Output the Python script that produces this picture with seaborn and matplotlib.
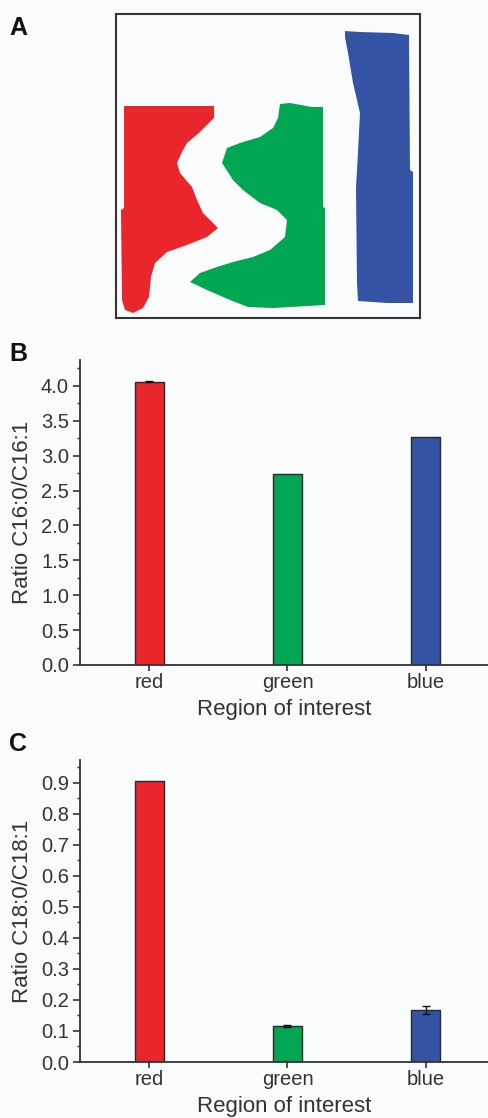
import matplotlib
matplotlib.use("Agg")
import matplotlib.pyplot as plt
import seaborn as sns
import pandas as pd
import numpy as np
from matplotlib.ticker import MultipleLocator

# ---------------- data ----------------
regions = ["red", "green", "blue"]
colors = ["#E8262B", "#00A651", "#3453A4"]

ratio_c16 = [4.06, 2.73, 3.26]
err_c16 = [0.01, 0.0, 0.0]

ratio_c18 = [0.907, 0.117, 0.167]
err_c18 = [0.0, 0.003, 0.012]

# Panel A region outlines (image pixel coords, y downward)
red_x = [124, 214, 214, 200, 187, 182, 177, 180, 192, 197, 203, 218, 207, 187, 167, 155, 151, 149, 143, 133, 125, 122, 121, 124]
red_y = [106, 106, 118, 132, 143, 152, 163, 173, 187, 200, 213, 228, 237, 245, 252, 263, 277, 297, 308, 313, 310, 300, 210, 208]
green_x = [280, 290, 312, 323, 323, 325, 325, 273, 248, 230, 207, 190, 200, 217, 233, 253, 270, 285, 287, 277, 260, 243, 233, 222, 227, 240, 260, 273, 278]
green_y = [104, 103, 107, 107, 207, 208, 305, 308, 307, 300, 290, 282, 273, 267, 262, 257, 250, 237, 220, 210, 203, 190, 180, 163, 148, 143, 137, 128, 118]
blue_x = [345, 360, 393, 409, 410, 413, 413, 387, 358, 357, 356, 358, 360, 353, 348, 345]
blue_y = [31, 32, 33, 35, 170, 172, 303, 303, 301, 283, 188, 152, 113, 83, 53, 37]

# ---------------- style ----------------
sns.set_style("white")
plt.rcParams["font.family"] = ["Liberation Sans", "DejaVu Sans"]
BG = "#fafbfd"
AX = "#333333"
TXT = "#333333"

fig = plt.figure(figsize=(4.88, 11.18), dpi=100, facecolor=BG)

# ---------------- Panel A ----------------
axA = fig.add_axes([116/488, 1-318/1118, 304/488, 304/1118])
axA.set_facecolor(BG)
for xs, ys, c in [(red_x, red_y, colors[0]), (green_x, green_y, colors[1]), (blue_x, blue_y, colors[2])]:
    axA.fill(xs, ys, color=c, lw=0)
axA.set_xlim(116, 420)
axA.set_ylim(318, 14)
axA.set_xticks([]); axA.set_yticks([])
for s in axA.spines.values():
    s.set_visible(True); s.set_color(AX); s.set_linewidth(1.5)
fig.text(9/488, 1-35/1118, "A", fontsize=18, fontweight="bold", color="#111")


def bar_panel(rect, vals, errs, ylim, major, minor, ylabel, letter, letter_y):
    ax = fig.add_axes(rect)
    ax.set_facecolor(BG)
    df = pd.DataFrame({"region": regions, "value": vals})
    sns.barplot(data=df, x="region", y="value", hue="region", palette=colors,
                saturation=1, width=0.21, edgecolor="#2a2a2a", linewidth=1.0,
                legend=False, ax=ax)
    idx = [i for i, e in enumerate(errs) if e > 0]
    ax.errorbar(idx, [vals[i] for i in idx], yerr=[errs[i] for i in idx],
                fmt="none", ecolor="#111", elinewidth=1.0, capsize=3, capthick=1.0)
    ax.set_xlim(-0.5, 2.45)
    ax.set_ylim(*ylim)
    ax.yaxis.set_major_locator(MultipleLocator(major))
    ax.yaxis.set_minor_locator(MultipleLocator(minor))
    ax.yaxis.set_major_formatter(matplotlib.ticker.FormatStrFormatter("%.1f"))
    for s in ["top", "right"]:
        ax.spines[s].set_visible(False)
    for s in ["left", "bottom"]:
        ax.spines[s].set_color(AX); ax.spines[s].set_linewidth(1.3)
    ax.tick_params(axis="y", which="major", direction="out", length=5, width=1.2,
                   color=AX, labelsize=14.5, labelcolor=TXT, pad=3, left=True)
    ax.tick_params(axis="y", which="minor", direction="out", length=2.5, width=1.0,
                   color=AX, left=True)
    ax.tick_params(axis="x", which="major", direction="out", length=4, width=1.2,
                   color=AX, labelsize=14.5, labelcolor=TXT, pad=1.5, bottom=True)
    ax.set_xlabel("Region of interest", fontsize=16, color=TXT, labelpad=5)
    ax.set_ylabel(ylabel, fontsize=16, color=TXT, labelpad=6)
    fig.text(9/488, 1-letter_y/1118, letter, fontsize=18, fontweight="bold", color="#111")
    return ax

bar_panel([80/488, 1-665/1118, 408/488, 305/1118], ratio_c16, err_c16,
          (0, 4.37), 0.5, 0.25, "Ratio C16:0/C16:1", "B", 361)
bar_panel([80/488, 1-1062/1118, 408/488, 302/1118], ratio_c18, err_c18,
          (0, 0.974), 0.1, 0.05, "Ratio C18:0/C18:1", "C", 751)

fig.savefig("out.png", dpi=100, facecolor=BG)
